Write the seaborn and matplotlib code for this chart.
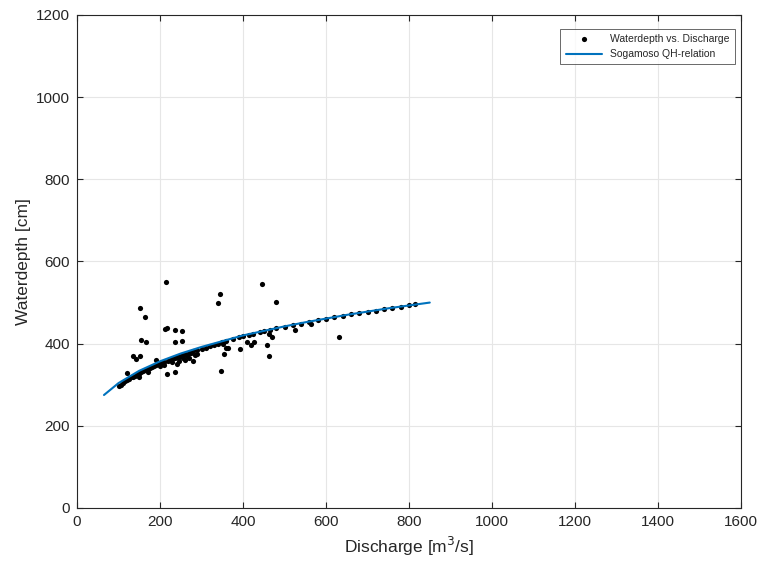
import numpy as np
import pandas as pd
import seaborn as sns
import matplotlib.pyplot as plt

# measured points (discharge m3/s, waterdepth cm)
discharge = [
    100, 105, 110, 115, 120, 125, 130, 135, 140, 145, 150, 155, 160, 165, 170,
    175, 180, 185, 190, 195, 200, 205, 210, 220, 225, 230, 235, 240, 245, 250,
    255, 260, 265, 270, 275, 280, 290, 300, 310, 320, 330, 340, 350, 360, 375,
    390, 400, 415, 425, 440, 450, 465, 480, 500, 520, 540, 560, 580, 600, 620,
    640, 660, 680, 700, 720, 740, 760, 780, 800, 815,
    150, 170, 200, 210, 230, 260, 270, 285, 290, 255, 245, 240,
    214, 152, 165, 211, 218, 235, 252, 154, 167, 235, 252, 136, 143, 152, 190,
    218, 236, 121, 446, 345, 339, 480, 351, 359, 365, 354, 393, 409, 419, 427,
    457, 463, 471, 462, 347, 280, 525, 563, 631,
]
waterdepth = [
    297, 300, 305, 308, 312, 315, 318, 320, 322, 325, 327, 330, 333, 336, 338,
    340, 343, 345, 347, 350, 352, 353, 356, 358, 360, 362, 365, 367, 368, 370,
    372, 374, 370, 377, 378, 381, 384, 388, 390, 394, 397, 400, 403, 406, 411,
    415, 418, 421, 424, 428, 431, 434, 437, 441, 445, 449, 452, 457, 461, 464,
    467, 471, 474, 477, 480, 484, 487, 490, 493, 496,
    318, 330, 345, 348, 355, 360, 366, 372, 376, 365, 358, 350,
    550, 487, 466, 435, 439, 434, 431, 408, 405, 403, 407, 369, 362, 369, 360,
    325, 331, 328, 544, 521, 500, 501, 398, 389, 389, 375, 388, 404, 396, 405,
    396, 369, 416, 423, 333, 358, 433, 447, 416,
]

# QH-relation
qh_discharge = [65, 100, 150, 200, 250, 300, 350, 400, 450, 500, 550, 600, 650, 700, 750, 800, 850]
qh_depth = [275, 304, 334, 357, 376, 392, 406, 420, 431, 442, 452, 461, 470, 478, 486, 493, 500]

pts = pd.DataFrame({'Q': discharge, 'H': waterdepth})
qh = pd.DataFrame({'Q': qh_discharge, 'H': qh_depth})

sns.set_style('whitegrid')
plt.rcParams['font.family'] = ['Liberation Sans', 'DejaVu Sans']

fig = plt.figure(figsize=(7.58, 5.65), dpi=100)
ax = fig.add_axes([0.1016, 0.1009, 0.8760, 0.8726])

sns.scatterplot(x='Q', y='H', data=pts, color='black', s=14, linewidth=0,
                label='Waterdepth vs. Discharge', ax=ax, zorder=3)
sns.lineplot(x='Q', y='H', data=qh, color=(0, 0.447, 0.741), linewidth=1.5,
             label='Sogamoso QH-relation', ax=ax, zorder=4)

ax.set_xlim(0, 1600)
ax.set_ylim(0, 1200)
ax.set_xticks(range(0, 1601, 200))
ax.set_yticks(range(0, 1201, 200))
ax.grid(True, color='#e6e6e6', linewidth=0.8)
for s in ax.spines.values():
    s.set_color('#262626')
    s.set_linewidth(0.8)
ax.tick_params(direction='in', length=4, color='#262626', labelcolor='#262626',
               labelsize=11, pad=5, bottom=True, left=True, top=True, right=True,
               labeltop=False, labelright=False)

ax.set_xlabel('Discharge [m$^3$/s]', fontsize=12.5, color='#262626')
ax.set_ylabel('Waterdepth [cm]', fontsize=12.5, color='#262626')

leg = ax.legend(loc='upper right', bbox_to_anchor=(0.991, 0.972), borderaxespad=0,
                fontsize=7.5, frameon=True, fancybox=False, handlelength=3.5,
                labelspacing=0.5, borderpad=0.5)
leg.get_frame().set_edgecolor('#262626')
leg.get_frame().set_linewidth(0.6)

fig.savefig('out.png', dpi=100)
